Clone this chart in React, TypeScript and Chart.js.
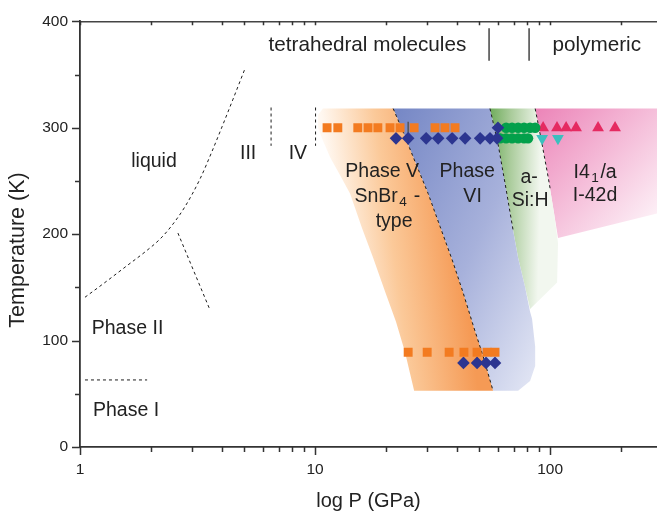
import React, { useEffect, useRef } from 'react';
import { Chart, registerables } from 'chart.js';

Chart.register(...registerables);

// ---------------- data ----------------
const xMin = 1;
const xMax = 285;
const yMin = 0;
const yMax = 400;
const xLabelTicks = [1, 10, 100];
const xMinorTicks = [2, 3, 4, 5, 6, 7, 8, 9, 20, 30, 40, 50, 60, 70, 80, 90, 200];
const yLabelTicks = [0, 100, 200, 300, 400];
const yMinorTicks = [50, 150, 250, 350];

// measured points: [P (GPa), T (K)]
const phaseVSquares = [[11.25, 300], [12.5, 300], [15.2, 300], [16.8, 300], [18.5, 300], [20.85, 300], [23.0, 300], [26.4, 300], [32.4, 300], [35.7, 300], [39.4, 300]];
const phaseVSquaresLow = [[24.9, 89], [30.0, 89], [37.2, 89], [43.0, 89], [48.9, 89], [53.9, 89], [58.3, 89]];
const phaseVIDiamonds = [[22.1, 290], [24.9, 290], [29.7, 290], [33.4, 290], [38.3, 290], [43.5, 290], [50.4, 290], [55.5, 290], [59.5, 290], [60.0, 300]];
const phaseVIDiamondsLow = [[42.8, 79], [48.9, 79], [53.4, 79], [58.3, 79]];
const aSiCircles = [[65.0, 300], [68.9, 300], [73.1, 300], [77.5, 300], [82.2, 300], [86.4, 300], [61.3, 290], [65.0, 290], [68.9, 290], [73.1, 290], [77.5, 290], [80.6, 290]];
const i41aTriangles = [[93.4, 300], [107, 300], [117, 300], [129, 300], [160, 300], [189, 300]];
const i42dTriangles = [[92.5, 290], [108, 290]];

// phase boundaries (dashed)
const liquidLine = [[1.05, 140.7], [1.277, 154.6], [1.585, 170.4], [1.891, 183.3], [2.19, 195.4], [2.463, 208.3], [2.798, 225.9], [3.241, 251.9], [3.645, 277.8], [4.021, 300.9], [4.479, 326.9], [5.036, 355.6]];
const phaseIIIIILine = [[2.61, 201], [3.57, 129]];
const phaseIIIIVLine = [[6.5, 319], [6.5, 283]];
const phaseIVVLine = [[10.05, 319], [10.05, 283]];
const phaseIIILine = [[1.05, 63], [1.93, 63]];
const molecularPolymericMarks = [[55.0, 393.5], [55.0, 363]];
const molecularPolymericMarks2 = [[81.4, 393.5], [81.4, 363]];
const errorBar = [[24.9, 305.5], [24.9, 291]];

// region outlines
const phaseVLeft = [[10.8, 318], [10.3, 312], [10.3, 300], [10.8, 288], [11.6, 272], [12.8, 255], [14.1, 238], [15.85, 205.6], [17.66, 177.8], [19.9, 145.4], [22.1, 117.6], [24.1, 89.8], [26.4, 52.8]];
const phaseVVIBoundary = [[21.5, 318], [23.5, 298], [26.6, 268.5], [30.3, 238], [34.0, 207.4], [38.3, 176], [42.6, 145.4], [47.0, 114.8], [51.9, 85.2], [57.2, 52.8]];
const phaseVIRight = [[55.5, 318], [60.1, 284.3], [64.4, 247.2], [69.6, 203.7], [73.1, 177.8], [78.3, 150], [82.2, 127], [83.8, 120.4], [86.4, 94.5], [86.4, 76], [82.2, 62], [73.1, 52.8]];
const aSiRight = [[86.4, 318], [92.5, 284.3], [98.1, 253.7], [104, 219.4], [108.1, 191.7], [107.1, 154.6], [82.2, 129.6]];
const i41aOuter = [[86.4, 318], [285, 318], [285, 219.4], [108.1, 196.3]];

// text labels (centre position in data units)
const textLabels = [
  { parts: [['tetrahedral molecules', 0]], p: 16.7, t: 377, size: 20.7 },
  { parts: [['polymeric', 0]], p: 158, t: 377, size: 20.7 },
  { parts: [['liquid', 0]], p: 2.065, t: 268.5 },
  { parts: [['III', 0]], p: 5.19, t: 276 },
  { parts: [['IV', 0]], p: 8.45, t: 276 },
  { parts: [['Phase V', 0]], p: 19.3, t: 258.3 },
  { parts: [['SnBr', 0], ['4', 1], [' -', 0]], p: 20.3, t: 235.2 },
  { parts: [['type', 0]], p: 21.7, t: 212 },
  { parts: [['Phase', 0]], p: 44.4, t: 258.3 },
  { parts: [['VI', 0]], p: 46.8, t: 235.2 },
  { parts: [['a-', 0]], p: 81.4, t: 252.8 },
  { parts: [['Si:H', 0]], p: 82.2, t: 231.5 },
  { parts: [['I4', 0], ['1', 1], ['/a', 0]], p: 155.4, t: 258 },
  { parts: [['I-42d', 0]], p: 155.4, t: 236.4 },
  { parts: [['Phase II', 0]], p: 1.593, t: 111 },
  { parts: [['Phase I', 0]], p: 1.57, t: 34.3 },
];
const xTitle = 'log P (GPa)';
const yTitle = 'Temperature (K)';

// ---------------- helpers ----------------
const W = 657;
const H = 514;
const FONT = "'Liberation Sans', Arial, Helvetica, sans-serif";
const TEXT = '#222';

const pts = (arr: number[][]) => arr.map(([x, y]) => ({ x, y }));

function gradient(chart: any, p0: number, t0: number, p1: number, t1: number, stops: [number, string][]) {
  const { scales } = chart;
  if (!chart.chartArea || !scales.x) return stops[stops.length - 1][1];
  const g = chart.ctx.createLinearGradient(
    scales.x.getPixelForValue(p0), scales.y.getPixelForValue(t0),
    scales.x.getPixelForValue(p1), scales.y.getPixelForValue(t1));
  stops.forEach(([o, c]) => g.addColorStop(o, c));
  return g;
}

function region(label: string, poly: number[][], grad: (c: any) => any) {
  return {
    label,
    data: pts(poly),
    showLine: true,
    fill: 'shape',
    tension: 0,
    borderWidth: 0,
    borderColor: 'rgba(0,0,0,0)',
    pointRadius: 0,
    pointHoverRadius: 0,
    backgroundColor: (ctx: any) => grad(ctx.chart),
    order: 30,
  };
}

function dashed(label: string, arr: number[][], smooth = false) {
  return {
    label,
    data: pts(arr),
    showLine: true,
    fill: false,
    cubicInterpolationMode: smooth ? 'monotone' : 'default',
    tension: 0,
    borderColor: '#1c1c1c',
    borderWidth: 1,
    borderDash: [3, 3],
    pointRadius: 0,
    pointHoverRadius: 0,
    order: 20,
  };
}

function solid(label: string, arr: number[][], color: string, width: number) {
  return {
    label,
    data: pts(arr),
    showLine: true,
    fill: false,
    borderColor: color,
    borderWidth: width,
    pointRadius: 0,
    pointHoverRadius: 0,
    order: 15,
  };
}

function markers(label: string, arr: number[][], style: string, color: string, radius: number, rotation = 0) {
  return {
    label,
    data: pts(arr),
    showLine: false,
    pointStyle: style,
    pointRadius: radius,
    pointHoverRadius: radius,
    pointRotation: rotation,
    pointBackgroundColor: color,
    pointBorderColor: color,
    pointBorderWidth: 0,
    backgroundColor: color,
    borderColor: color,
    order: 5,
  };
}

const tickMarksPlugin = {
  id: 'tickMarks',
  afterDraw(chart: any) {
    const { ctx, chartArea, scales } = chart;
    const x = scales.x;
    const y = scales.y;
    ctx.save();
    ctx.strokeStyle = '#333';
    ctx.lineWidth = 1.5;
    ctx.beginPath();
    const xs: [number, number][] = [
      ...xLabelTicks.map((v) => [v, 8] as [number, number]),
      ...xMinorTicks.map((v) => [v, 5] as [number, number]),
    ];
    xs.forEach(([v, len]) => {
      const px = Math.round(x.getPixelForValue(v)) + 0.5;
      ctx.moveTo(px, chartArea.bottom);
      ctx.lineTo(px, chartArea.bottom + len);
      ctx.moveTo(px, chartArea.top);
      ctx.lineTo(px, chartArea.top + 4);
    });
    const ys: [number, number][] = [
      ...yLabelTicks.map((v) => [v, 8] as [number, number]),
      ...yMinorTicks.map((v) => [v, 5] as [number, number]),
    ];
    ys.forEach(([v, len]) => {
      const py = Math.round(y.getPixelForValue(v)) + 0.5;
      ctx.moveTo(chartArea.left - len, py);
      ctx.lineTo(chartArea.left, py);
    });
    ctx.stroke();
    ctx.restore();
  },
};

const labelsPlugin = {
  id: 'phaseLabels',
  afterDatasetsDraw(chart: any) {
    const { ctx, scales } = chart;
    ctx.save();
    ctx.fillStyle = TEXT;
    ctx.textBaseline = 'middle';
    ctx.textAlign = 'left';
    textLabels.forEach((lab: any) => {
      const size = lab.size || 19.5;
      const subSize = size * 0.7;
      const cx = scales.x.getPixelForValue(lab.p);
      const cy = scales.y.getPixelForValue(lab.t);
      const widths = lab.parts.map(([s, sub]: any) => {
        ctx.font = `${sub ? subSize : size}px ${FONT}`;
        return ctx.measureText(s as string).width + (sub ? 3 : 0);
      });
      const total = widths.reduce((a: number, b: number) => a + b, 0);
      let xx = cx - total / 2;
      lab.parts.forEach(([s, sub]: any, i: number) => {
        ctx.font = `${sub ? subSize : size}px ${FONT}`;
        ctx.fillText(s as string, xx + (sub ? 1.5 : 0), cy + (sub ? 6 : 0));
        xx += widths[i];
      });
    });
    // y-axis title
    ctx.font = `21.5px ${FONT}`;
    ctx.textAlign = 'center';
    ctx.translate(18.5, 250);
    ctx.rotate(-Math.PI / 2);
    ctx.fillText(yTitle, 0, 0);
    ctx.restore();
  },
};

export default function App() {
  const ref = useRef<HTMLCanvasElement>(null);

  useEffect(() => {
    if (!ref.current) return;
    Chart.defaults.font.family = FONT;

    const orangeGrad = (c: any) => gradient(c, 10.5, 318, 33.4, 333, [[0, '#fff8f1'], [0.45, '#fbc999'], [1, '#f59a55']]);
    const blueGrad = (c: any) => gradient(c, 20.85, 321, 305, 202.8, [[0, '#7385c4'], [0.45, '#a7b1db'], [0.8, '#dfe3f3'], [1, '#ffffff']]);
    const greenGrad = (c: any) => gradient(c, 55.5, 312, 92, 311, [[0, '#6fac5c'], [0.4, '#a9cb9a'], [1, '#f2f7ef']]);
    const pinkGrad = (c: any) => gradient(c, 90.6, 318.5, 285, 214.8, [[0, '#ec86b9'], [1, '#fdf1f7']]);

    const phaseVPoly = [...phaseVLeft, ...[...phaseVVIBoundary].reverse()];
    const phaseVIPoly = [...phaseVIRight, ...[...phaseVVIBoundary].reverse()];
    const aSiPoly = [...aSiRight, ...phaseVIRight.slice(0, 6).reverse()];
    const i41aPoly = [...i41aOuter, ...aSiRight.slice(1, 4).reverse()];

    const chart = new Chart(ref.current, {
      type: 'scatter',
      data: {
        datasets: [
          markers('Phase V', phaseVSquares, 'rect', '#f37b20', 6.3),
          markers('Phase V low T', phaseVSquaresLow, 'rect', '#f37b20', 6.3),
          markers('Phase VI', phaseVIDiamonds, 'rectRot', '#2c3590', 6.3),
          markers('Phase VI low T', phaseVIDiamondsLow, 'rectRot', '#2c3590', 6.3),
          markers('a-Si:H', aSiCircles, 'circle', '#03a04b', 5.2),
          markers('I41/a', i41aTriangles, 'triangle', '#e52a61', 6.8),
          markers('I-42d', i42dTriangles, 'triangle', '#3cbfbe', 6.8, 180),
          solid('error', errorBar, '#555', 1.5),
          solid('sep1', molecularPolymericMarks, '#444', 1.5),
          solid('sep2', molecularPolymericMarks2, '#444', 1.5),
          dashed('liquid', liquidLine, true),
          dashed('II-III', phaseIIIIILine),
          dashed('III-IV', phaseIIIIVLine),
          dashed('IV-V', phaseIVVLine),
          dashed('I-II', phaseIIILine),
          dashed('V-VI', phaseVVIBoundary),
          dashed('VI-aSi', phaseVIRight.slice(0, 4)),
          dashed('aSi-I41a', [...aSiRight.slice(0, 3), [100, 243]]),
          region('Phase V region', phaseVPoly, orangeGrad),
          region('Phase VI region', phaseVIPoly, blueGrad),
          region('a-Si:H region', aSiPoly, greenGrad),
          region('I41/a region', i41aPoly, pinkGrad),
        ] as any,
      },
      options: {
        responsive: false,
        animation: false,
        devicePixelRatio: 1,
        events: [],
        layout: { padding: 0, autoPadding: false },
        plugins: {
          legend: { display: false },
          tooltip: { enabled: false },
        },
        scales: {
          x: {
            type: 'logarithmic',
            position: 'bottom',
            min: xMin,
            max: xMax,
            afterBuildTicks: (s: any) => {
              s.ticks = xLabelTicks.map((v) => ({ value: v }));
            },
            afterFit: (s: any) => {
              s.height = H - 447;
            },
            ticks: {
              callback: (v: any) => String(v),
              padding: 13,
              font: { size: 15.5 },
              color: TEXT,
              maxRotation: 0,
              autoSkip: false,
            },
            grid: { display: false, drawTicks: false },
            border: { display: true, color: '#333', width: 1.8 },
            title: {
              display: true,
              text: xTitle,
              color: TEXT,
              font: { size: 20 },
              padding: { top: 0, bottom: 1 },
            },
          },
          x2: {
            type: 'logarithmic',
            position: 'top',
            min: xMin,
            max: xMax,
            ticks: { display: false },
            grid: { display: false, drawTicks: false },
            border: { display: true, color: '#444', width: 1.5 },
            afterFit: (s: any) => {
              s.height = 15;
            },
          },
          y: {
            type: 'linear',
            min: yMin,
            max: yMax,
            afterBuildTicks: (s: any) => {
              s.ticks = yLabelTicks.map((v) => ({ value: v }));
            },
            afterFit: (s: any) => {
              s.width = 80;
            },
            ticks: {
              padding: 12,
              font: { size: 15.5 },
              color: TEXT,
            },
            grid: { display: false, drawTicks: false },
            border: { display: true, color: '#333', width: 1.8 },
          },
        },
      } as any,
      plugins: [tickMarksPlugin, labelsPlugin],
    });
    return () => chart.destroy();
  }, []);

  return (
    <div style={{ position: 'fixed', left: 0, top: 0, width: W, height: H, background: '#fff' }}>
      <canvas ref={ref} width={W} height={H} style={{ display: 'block', width: W, height: H }} />
    </div>
  );
}
